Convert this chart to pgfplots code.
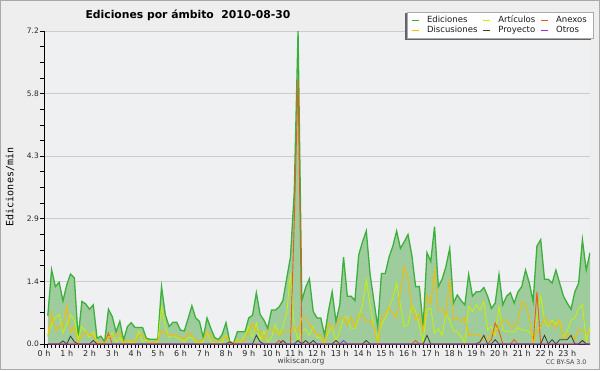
\documentclass[border=0pt]{standalone}
\usepackage{fontspec}
\setmainfont{DejaVu Sans}
\newfontfamily\monofont{DejaVu Sans Mono}
\usepackage{pgfplots}
\pgfplotsset{compat=1.18}
\usepackage{pgfplotstable}

\definecolor{bgc}{RGB}{238,238,238}
\definecolor{plotbg}{RGB}{239,240,241}
\definecolor{bordc}{RGB}{170,170,170}
\definecolor{gridc}{RGB}{204,204,204}
\definecolor{edline}{RGB}{60,176,60}
\definecolor{edfill}{RGB}{158,204,156}
\definecolor{artc}{RGB}{196,240,10}
\definecolor{anxc}{RGB}{240,90,20}
\definecolor{discc}{RGB}{245,188,0}
\definecolor{proyc}{RGB}{60,60,60}
\definecolor{otrc}{RGB}{140,50,230}
\definecolor{shadowc}{RGB}{100,100,100}

\pgfplotstableread{
t ed art anx disc proy otr
1 0.65 0.20 0 0.17 0 0
2 1.71 0.45 0 0.70 0 0
3 1.32 0.60 0 0.30 0 0
4 1.42 0.68 0 0.40 0 0
5 0.99 0.25 0 0.40 0.07 0
6 1.36 0.45 0 0.88 0 0
7 1.61 0.67 0 0.28 0.18 0
8 1.52 0.55 0 0.40 0.05 0
9 0.15 0.12 0 0.00 0 0
10 0.98 0.40 0 0.20 0 0
11 0.92 0.30 0 0.28 0 0
12 0.80 0.15 0 0.20 0 0
13 0.90 0.28 0 0.20 0.08 0
14 0.13 0.05 0 0.02 0 0
15 0.18 0.02 0 0.05 0 0
16 0.05 0.03 0 0.02 0 0
17 0.80 0.20 0.25 0.17 0 0
18 0.63 0.25 0 0.17 0 0
19 0.28 0.05 0 0.20 0 0
20 0.52 0.15 0 0.28 0 0
21 0.09 0.02 0 0.03 0 0
22 0.40 0.08 0 0.08 0 0
23 0.49 0.02 0 0.08 0 0
24 0.38 0.05 0 0.05 0 0
25 0.38 0.30 0 0.20 0 0
26 0.38 0.05 0 0.20 0 0
27 0.13 0.08 0 0.10 0 0
28 0.11 0.05 0 0.05 0 0
29 0.11 0.02 0 0.02 0 0
30 0.11 0.05 0 0.08 0 0
31 1.32 0.85 0 0.30 0 0
32 0.67 0.38 0 0.25 0 0
33 0.40 0.15 0 0.20 0 0
34 0.50 0.20 0 0.20 0 0
35 0.50 0.15 0 0.20 0 0
36 0.32 0.10 0 0.15 0 0
37 0.30 0.05 0 0.10 0 0
38 0.58 0.15 0 0.28 0 0
39 0.88 0.15 0 0.20 0 0
40 0.60 0.05 0 0.08 0 0
41 0.52 0.02 0 0.05 0 0
42 0.15 0.05 0 0.10 0 0
43 0.60 0.28 0 0.28 0 0
44 0.36 0.05 0 0.20 0 0
45 0.15 0.02 0 0.08 0 0
46 0.10 0.02 0 0.08 0 0
47 0.22 0.05 0 0.12 0 0
48 0.49 0.20 0 0.17 0 0
49 0.05 0.02 0 0.02 0.05 0
50 0.02 0.00 0 0.02 0 0
51 0.28 0.10 0 0.08 0 0
52 0.28 0.05 0 0.08 0 0
53 0.28 0.20 0 0.08 0 0
54 0.60 0.40 0 0.30 0 0
55 0.66 0.15 0 0.48 0 0
56 1.18 0.48 0 0.30 0.20 0
57 0.68 0.10 0 0.28 0.05 0
58 0.55 0.30 0 0.10 0 0
59 0.36 0.05 0 0.30 0 0
60 0.78 0.15 0 0.36 0 0
61 0.78 0.44 0 0.30 0 0
62 0.85 0.20 0.08 0.20 0 0
63 1.00 0.40 0 0.28 0.08 0
64 1.50 0.70 0 0.28 0 0
65 2.00 1.62 0 0.28 0 0
66 3.50 0.40 2.80 0.40 0 0
67 7.20 0.10 6.10 0.28 0.08 0
68 1.00 0.30 0 0.60 0 0
69 1.30 0.35 0 0.60 0.08 0
70 1.50 0.20 0 0.45 0 0
71 0.75 0.40 0 0.36 0.08 0
72 0.60 0.15 0 0.20 0 0
73 0.60 0.15 0 0.20 0 0
74 0.20 0.02 0 0.00 0 0
75 0.75 0.28 0 0.48 0 0
76 1.20 0.40 0 0.36 0 0
77 0.52 0.05 0 0.40 0.08 0
78 0.90 0.30 0 0.60 0 0
79 2.00 0.60 0 0.60 0 0.08
80 1.10 0.63 0 0.45 0 0
81 1.10 0.35 0 0.60 0 0
82 1.00 0.35 0 0.40 0 0
83 2.05 0.62 0 0.68 0 0
84 2.35 0.90 0 0.67 0 0
85 2.60 1.48 0 0.52 0.08 0
86 1.60 0.90 0 0.52 0 0
87 1.00 0.40 0 0.40 0 0
88 0.40 0.10 0 0.00 0 0
89 1.62 0.45 0 0.60 0 0
90 1.62 0.60 0 0.70 0 0
91 2.00 0.85 0 0.82 0 0
92 2.25 1.05 0 0.72 0 0
93 2.60 1.40 0 0.60 0 0
94 2.20 0.90 0 1.20 0 0
95 2.35 0.40 0 1.78 0 0
96 2.52 0.45 0 1.50 0 0
97 2.05 0.90 0 0.85 0 0
98 1.32 0.75 0.08 0.55 0 0
99 1.32 0.40 0 0.68 0 0
100 0.40 0.05 0 0.30 0 0
101 2.10 0.80 0 1.13 0.20 0
102 1.90 0.82 0 0.90 0 0
103 2.70 0.25 0 1.70 0 0
104 1.32 0.35 0 0.78 0 0
105 1.49 0.20 0 0.80 0 0
106 1.78 0.70 0 0.65 0 0
107 2.20 0.55 0 1.48 0 0
108 0.94 0.30 0 0.55 0 0
109 1.13 0.28 0 0.60 0 0
110 1.00 0.17 0 0.52 0 0
111 0.90 0.02 0 0.60 0 0
112 1.60 0.86 0 0.20 0 0
113 1.10 0.75 0 0.20 0 0
114 1.20 0.90 0 0.20 0 0
115 1.20 0.78 0 0.20 0.05 0
116 1.30 0.98 0 0.10 0.20 0
117 1.10 0.32 0 0.10 0 0
118 0.82 0.40 0.10 0.28 0 0
119 0.94 0.20 0.48 0.25 0.10 0
120 1.60 0.86 0.30 0.40 0 0
121 0.90 0.32 0 0.55 0 0
122 1.10 0.28 0 0.55 0 0
123 1.18 0.28 0 0.40 0 0
124 0.94 0.28 0.10 0.40 0 0
125 1.20 0.38 0 0.55 0 0
126 1.32 0.32 0 0.98 0 0
127 1.70 0.32 0 0.90 0 0
128 1.40 0.28 0 0.60 0 0
129 0.98 0.20 0 0.02 0 0
130 2.25 0.60 1.20 0.30 0 0
131 2.40 1.10 0 0.40 0 0
132 1.49 0.55 0 0.60 0.20 0
133 1.49 0.40 0 0.45 0 0
134 1.40 0.55 0 0.50 0.10 0
135 1.70 0.45 0 0.35 0 0
136 1.40 0.55 0 0.55 0.10 0
137 1.10 0.15 0 0.12 0.10 0
138 0.94 0.30 0 0.20 0.10 0
139 0.80 0.55 0 0.20 0.20 0
140 1.20 0.60 0 0.10 0 0
141 1.40 0.82 0 0.35 0 0
142 2.40 0.90 0.08 0.30 0.08 0
143 1.70 0.05 0 0.25 0 0
144 2.10 0.40 0 0.25 0 0
}\datatable

\begin{document}
\begin{tikzpicture}[x=1pt,y=1pt]
% axis box south west corner sits at (0,0); the image spans (-44,-26) to (556,344)
\fill[bgc] (-44,-26) rectangle (556,344);
\draw[bordc, line width=1pt] (-43.5,-25.5) rectangle (555.5,343.5);
\begin{axis}[
  scale only axis, width=546pt, height=313pt,
  xmin=0, xmax=144, ymin=0, ymax=7.2,
  axis lines*=left,
  axis line style={black, line width=1pt},
  axis background/.style={fill=plotbg},
  xtick={0,6,...,138},
  xticklabels={0 h,1 h,2 h,3 h,4 h,5 h,6 h,7 h,8 h,9 h,10 h,11 h,12 h,13 h,14 h,15 h,16 h,17 h,18 h,19 h,20 h,21 h,22 h,23 h},
  minor x tick num=5,
  ytick={0,1.44,2.88,4.32,5.76,7.2},
  yticklabels={0.0,1.4,2.9,4.3,5.8,7.2},
  minor y tick num=3,
  tick align=outside,
  major tick length=4pt, minor tick length=4pt,
  every tick/.style={black, line width=0.8pt},
  ymajorgrids, major grid style={gridc, line width=0.8pt},
  xticklabel style={font=\fontsize{8}{8}\selectfont, text=black!85, inner sep=1pt, yshift=-1pt},
  yticklabel style={font=\fontsize{7.5}{7.5}\selectfont, text=black!85, inner sep=1pt},
  legend columns=3,
  legend cell align=left,
  legend image code/.code={\draw[#1, line width=0.8pt] (0pt,0pt) -- (7pt,0pt);},
  legend style={name=leg, at={(1.0055,1.0617)}, anchor=north east,
    draw=bordc, fill=white, text=black!90, font=\fontsize{8.5}{9}\selectfont,
    inner xsep=4pt, inner ysep=2pt, row sep=-2pt,
    /tikz/every odd column/.append style={column sep=6pt},
    /tikz/every even column/.append style={column sep=3pt}},
]
\addplot[draw=none, fill=edfill, forget plot] table[x=t, y=ed] {\datatable} \closedcycle;
\addplot[draw=edline, line width=1.3pt] table[x=t, y=ed] {\datatable};
\addlegendentry{Ediciones}
\addplot[draw=artc, line width=0.9pt] table[x=t, y=art] {\datatable};
\addlegendentry{Artículos}
\addplot[draw=anxc, line width=0.9pt] table[x=t, y=anx] {\datatable};
\addlegendentry{Anexos}
\addplot[draw=discc, line width=0.9pt] table[x=t, y=disc] {\datatable};
\addlegendentry{Discusiones}
\addplot[draw=proyc, line width=0.8pt] table[x=t, y=proy] {\datatable};
\addlegendentry{Proyecto}
\addplot[draw=otrc, line width=0.8pt] table[x=t, y=otr] {\datatable};
\addlegendentry{Otros}
\end{axis}
% legend drop shadow (left and bottom strips)
\fill[shadowc] ([xshift=-2.5pt,yshift=-1.5pt]leg.south west) rectangle ([xshift=-0.5pt,yshift=-1.5pt]leg.north west);
\fill[shadowc] ([xshift=-2.5pt,yshift=-1.5pt]leg.south west) rectangle ([xshift=-2.5pt,yshift=-0.5pt]leg.south east);
\node[anchor=west, font=\bfseries\fontsize{10.8}{11}\selectfont] at (38,329) {Ediciones por ámbito\ \ 2010-08-30};
\node[rotate=90, font=\monofont\fontsize{10}{10}\selectfont] at (-34,157) {Ediciones/min};
\node[font=\fontsize{7.5}{7.5}\selectfont, text=black!75] at (257,-17) {wikiscan.org};
\node[anchor=east, font=\fontsize{6.3}{6.3}\selectfont, text=black!75] at (546,-18) {CC BY-SA 3.0};
\end{tikzpicture}
\end{document}
